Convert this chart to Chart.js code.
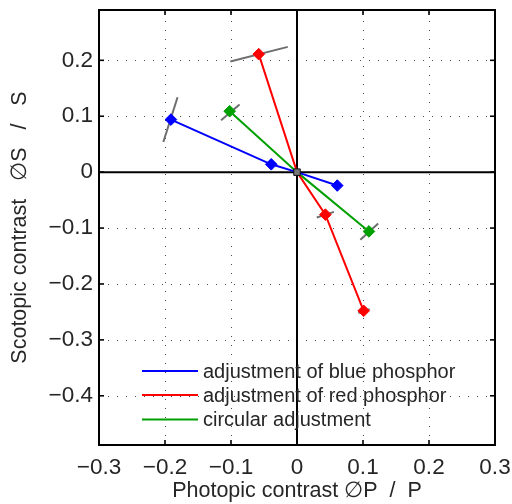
<!DOCTYPE html>
<html><head><meta charset="utf-8">
<script src="https://cdn.jsdelivr.net/npm/chart.js@4/dist/chart.umd.min.js"></script>
<style>html,body{margin:0;padding:0;background:#fff}#wrap{width:512px;height:504px;position:relative}</style>
</head><body><div id="wrap"><canvas id="c"></canvas></div>
<script>
// ---- data ----
const xTicks = [-0.3, -0.2, -0.1, 0, 0.1, 0.2, 0.3];
const yTicks = [-0.4, -0.3, -0.2, -0.1, 0, 0.1, 0.2];
const xRange = [-0.3, 0.3];
const yRange = [-0.488, 0.29];
const seriesLabels = ['adjustment of blue phosphor', 'adjustment of red phosphor', 'circular adjustment'];
const blueX = [-0.191, -0.039, 0, 0.061];
const blueY = [0.094, 0.014, 0, -0.024];
const redX = [-0.058, 0, 0.043, 0.101];
const redY = [0.211, 0, -0.076, -0.248];
const greenX = [-0.102, 0, 0.109];
const greenY = [0.109, 0, -0.106];
const centerX = [0];
const centerY = [0];
// gray orientation segments (start / end points)
const segX1 = [-0.101, -0.2025, -0.115, 0.030, 0.096, 0.093];
const segY1 = [0.198, 0.054, 0.093, -0.081, -0.121, -0.252];
const segX2 = [-0.014, -0.181, -0.087, 0.056, 0.123, 0.110];
const segY2 = [0.224, 0.134, 0.121, -0.071, -0.092, -0.245];
const xTitle = 'Photopic contrast \u2205P  /  P';
const yTitle = 'Scotopic contrast   \u2205S   /   S';

// ---- style ----
const FAM = '"Liberation Sans", Arial, Helvetica, sans-serif';
const TXT = '#262626';
const seriesColors = ['#0000ff', '#ff0000', '#00a000'];

function fmt(v) {
  if (Math.abs(v) < 1e-9) return '0';
  return (v < 0 ? '\u2212' : '') + Math.abs(v).toFixed(1);
}
const toPts = (xs, ys) => xs.map((x, i) => ({x: x, y: ys[i]}));

const datasets = [];
datasets.push({
  label: 'center', data: toPts(centerX, centerY), showLine: false,
  pointStyle: 'rect', pointRadius: 4.6, backgroundColor: '#787878',
  borderColor: '#111', pointBorderWidth: 1, order: 0
});
const seriesX = [blueX, redX, greenX];
const seriesY = [blueY, redY, greenY];
seriesLabels.forEach((lab, k) => {
  datasets.push({
    label: lab, data: toPts(seriesX[k], seriesY[k]), showLine: true,
    borderColor: seriesColors[k], backgroundColor: seriesColors[k], borderWidth: 2,
    pointStyle: 'rectRot', pointBorderColor: seriesColors[k], pointBackgroundColor: seriesColors[k],
    pointRadius: (ctx) => (ctx.raw && ctx.raw.x === 0 && ctx.raw.y === 0) ? 0 : 5.8,
    pointBorderWidth: 1, tension: 0, order: 1 + k, isSeries: true
  });
});
segX1.forEach((x, i) => {
  datasets.push({
    label: 'seg', data: [{x: segX1[i], y: segY1[i]}, {x: segX2[i], y: segY2[i]}],
    showLine: true, borderColor: '#6e6e6e', borderWidth: 2, pointRadius: 0, order: 10
  });
});

const framePlugin = {
  id: 'framePlugin',
  beforeDraw(chart) {
    const c = chart.ctx;
    c.save(); c.fillStyle = '#fff'; c.fillRect(0, 0, chart.width, chart.height); c.restore();
  },
  beforeDatasetsDraw(chart) {
    const c = chart.ctx, a = chart.chartArea, xs = chart.scales.x, ys = chart.scales.y;
    c.save();
    c.strokeStyle = '#4a4a4a'; c.lineWidth = 1; c.setLineDash([1, 8]);
    xTicks.forEach(v => {
      if (v <= xRange[0] || v >= xRange[1] || v === 0) return;
      const px = Math.round(xs.getPixelForValue(v)) + 0.5;
      c.beginPath(); c.moveTo(px, a.bottom); c.lineTo(px, a.top); c.stroke();
    });
    yTicks.forEach(v => {
      if (v === 0) return;
      const py = Math.round(ys.getPixelForValue(v)) + 0.5;
      c.beginPath(); c.moveTo(a.left, py); c.lineTo(a.right, py); c.stroke();
    });
    c.setLineDash([]);
    c.strokeStyle = '#000'; c.lineWidth = 2;
    const x0 = xs.getPixelForValue(0), y0 = ys.getPixelForValue(0);
    c.beginPath(); c.moveTo(x0, a.top); c.lineTo(x0, a.bottom); c.stroke();
    c.beginPath(); c.moveTo(a.left, y0); c.lineTo(a.right, y0); c.stroke();
    c.restore();
  },
  afterDraw(chart) {
    const c = chart.ctx, a = chart.chartArea, xs = chart.scales.x, ys = chart.scales.y;
    c.save();
    c.strokeStyle = '#000'; c.lineWidth = 1.6;
    const tl = 5;
    xTicks.forEach(v => {
      const px = xs.getPixelForValue(v);
      c.beginPath(); c.moveTo(px, a.bottom); c.lineTo(px, a.bottom - tl); c.stroke();
      c.beginPath(); c.moveTo(px, a.top); c.lineTo(px, a.top + tl); c.stroke();
    });
    yTicks.forEach(v => {
      const py = ys.getPixelForValue(v);
      c.beginPath(); c.moveTo(a.left, py); c.lineTo(a.left + tl, py); c.stroke();
      c.beginPath(); c.moveTo(a.right, py); c.lineTo(a.right - tl, py); c.stroke();
    });
    c.lineWidth = 2;
    c.strokeRect(a.left, a.top, a.right - a.left, a.bottom - a.top);
    // legend (inside the axes, lower left)
    const lx1 = 142, lx2 = 198, tx = 203, ly = [371, 395, 419.5];
    c.font = '20px ' + FAM;
    c.textBaseline = 'middle'; c.textAlign = 'left';
    chart.data.datasets.filter(d => d.isSeries).forEach((d, i) => {
      c.strokeStyle = d.borderColor; c.lineWidth = 2;
      c.beginPath(); c.moveTo(lx1, ly[i]); c.lineTo(lx2, ly[i]); c.stroke();
      c.fillStyle = TXT; c.fillText(d.label, tx, ly[i] + 1);
    });
    c.restore();
  }
};

new Chart(document.getElementById('c'), {
  type: 'scatter',
  data: {datasets: datasets},
  options: {
    responsive: true, maintainAspectRatio: false, animation: false, events: [],
    layout: {padding: {top: 10, right: 17, left: 0, bottom: 0}},
    plugins: {legend: {display: false}, tooltip: {enabled: false}},
    scales: {
      x: {
        type: 'linear', min: xRange[0], max: xRange[1],
        afterBuildTicks: s => { s.ticks = xTicks.map(v => ({value: v})); },
        afterFit: s => { s.height = 59; s.paddingLeft = 0; s.paddingRight = 0; },
        grid: {display: false, drawTicks: false}, border: {display: false},
        ticks: {autoSkip: false, maxRotation: 0, padding: 9, color: TXT, font: {family: FAM, size: 22.5}, callback: v => fmt(v)},
        title: {display: true, text: xTitle, color: TXT, font: {family: FAM, size: 21.5}, padding: {top: 0, bottom: 0}}
      },
      y: {
        type: 'linear', min: yRange[0], max: yRange[1],
        afterBuildTicks: s => { s.ticks = yTicks.map(v => ({value: v})); },
        afterFit: s => { s.width = 99; s.paddingTop = 0; s.paddingBottom = 0; },
        grid: {display: false, drawTicks: false}, border: {display: false},
        ticks: {autoSkip: false, padding: 6, color: TXT, font: {family: FAM, size: 22.5}, callback: v => fmt(v)},
        title: {display: true, text: yTitle, color: TXT, font: {family: FAM, size: 21.5}, padding: {top: 7, bottom: 0}}
      }
    }
  },
  plugins: [framePlugin]
});
</script>
</body></html>
